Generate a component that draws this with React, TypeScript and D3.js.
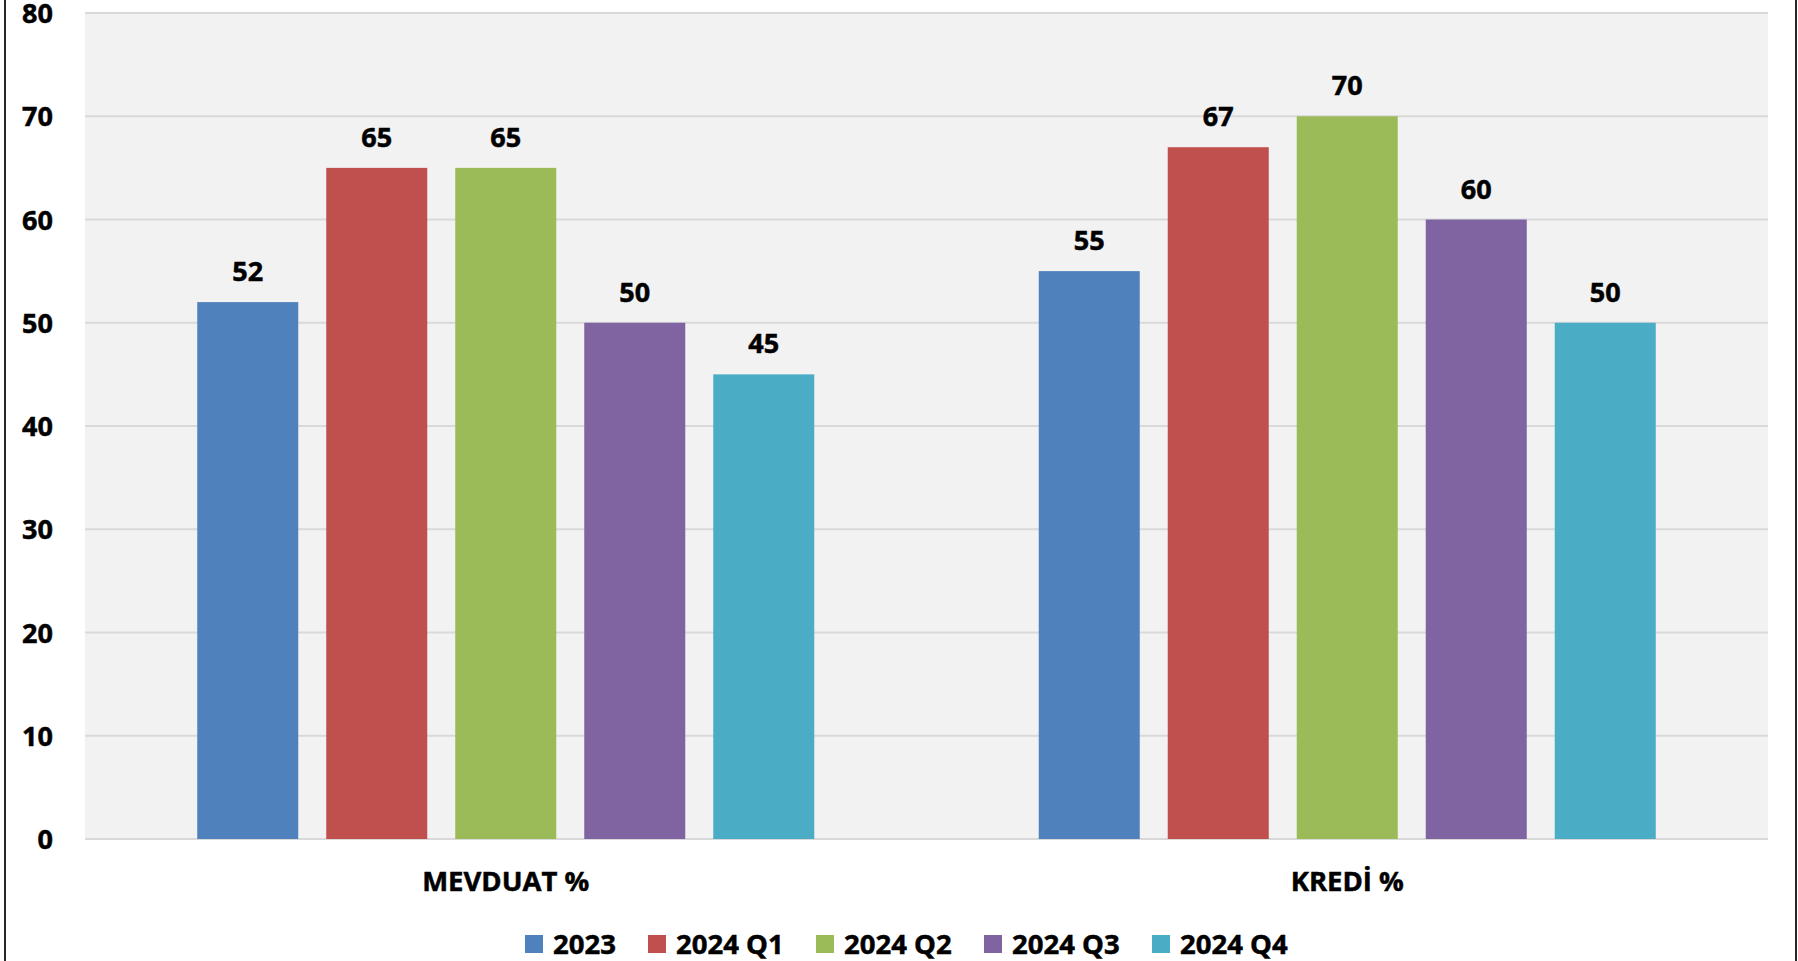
import React from "react";
import * as d3 from "d3";

const categories = ["MEVDUAT %", "KREDİ %"];
const seriesNames = ["2023", "2024 Q1", "2024 Q2", "2024 Q3", "2024 Q4"];
const seriesColors = ["#4f81bd", "#c0504d", "#9bbb59", "#8064a2", "#4bacc6"];
const values2023 = [52, 55];
const values2024Q1 = [65, 67];
const values2024Q2 = [65, 70];
const values2024Q3 = [50, 60];
const values2024Q4 = [45, 50];
const yTicks = [0, 10, 20, 30, 40, 50, 60, 70, 80];

const seriesValues = [values2023, values2024Q1, values2024Q2, values2024Q3, values2024Q4];

const W = 1798;
const H = 961;
const FONT = "'Open Sans', 'Noto Sans', sans-serif";

export default function App() {
  const left = 85;
  const right = 1768;
  const top = 13;
  const bottom = 839;

  const x0 = d3.scaleBand<string>().domain(categories).range([left, right]).padding(0);
  const groupHalf = 322.5;
  const x1 = d3
    .scaleBand<string>()
    .domain(seriesNames)
    .range([-groupHalf, groupHalf])
    .paddingInner(0.217)
    .paddingOuter(0.1085);
  const y = d3.scaleLinear().domain([0, 80]).range([bottom, top]);

  const legendStarts = [525, 648, 816, 984, 1152];
  const textStyle = { stroke: "#000", strokeWidth: 0.5 };

  return (
    <svg
      width={W}
      height={H}
      style={{ position: "fixed", left: 0, top: 0, background: "#fff" }}
      fontFamily={FONT}
    >
      <rect x={0} y={0} width={W} height={H} fill="#ffffff" />
      <rect x={left} y={top} width={right - left} height={bottom - top} fill="#f2f2f2" />
      {yTicks.map((t) => (
        <line
          key={"g" + t}
          x1={left}
          x2={right}
          y1={y(t)}
          y2={y(t)}
          stroke="#d9d9d9"
          strokeWidth={2}
        />
      ))}
      {yTicks.map((t) => (
        <text
          key={"t" + t}
          x={53}
          y={y(t) + 10}
          textAnchor="end"
          fontSize={27}
          fontWeight={700}
          fill="#000"
          style={textStyle}
        >
          {t}
        </text>
      ))}
      {categories.map((c, ci) => {
        const cx = (x0(c) as number) + x0.bandwidth() / 2;
        return (
          <g key={c}>
            {seriesNames.map((s, si) => {
              const v = seriesValues[si][ci];
              const bx = cx + (x1(s) as number);
              const by = y(v);
              return (
                <g key={s}>
                  <rect
                    x={bx}
                    y={by}
                    width={x1.bandwidth()}
                    height={bottom - by}
                    fill={seriesColors[si]}
                  />
                  <text
                    x={bx + x1.bandwidth() / 2}
                    y={by - 21}
                    textAnchor="middle"
                    fontSize={27}
                    fontWeight={700}
                    fill="#000"
                    style={textStyle}
                  >
                    {v}
                  </text>
                </g>
              );
            })}
            <text
              x={cx}
              y={891}
              textAnchor="middle"
              fontSize={27.5}
              fontWeight={700}
              fill="#000"
              style={textStyle}
            >
              {c}
            </text>
          </g>
        );
      })}
      {seriesNames.map((s, si) => (
        <g key={"l" + s}>
          <rect x={legendStarts[si]} y={935} width={18} height={18} fill={seriesColors[si]} />
          <text
            x={legendStarts[si] + 28}
            y={954}
            fontSize={27.5}
            fontWeight={700}
            fill="#000"
            style={textStyle}
          >
            {s}
          </text>
        </g>
      ))}
      <line x1={5} x2={5} y1={0} y2={H} stroke="#262626" strokeWidth={2} />
      <line x1={1796} x2={1796} y1={0} y2={H} stroke="#262626" strokeWidth={2} />
    </svg>
  );
}
